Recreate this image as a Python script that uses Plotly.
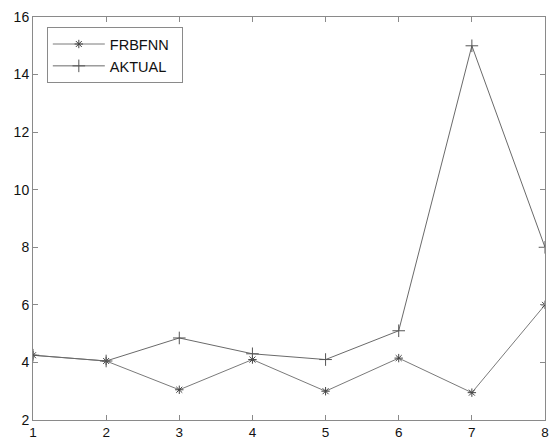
import plotly.graph_objects as go

x_vals = [1, 2, 3, 4, 5, 6, 7, 8]
frbfnn = [4.25, 4.05, 3.05, 4.1, 3.0, 4.15, 2.95, 6.0]
aktual = [4.25, 4.05, 4.85, 4.3, 4.1, 5.1, 15.0, 8.0]
series_names = ["FRBFNN", "AKTUAL"]

fig = go.Figure()
fig.add_trace(go.Scatter(
    x=x_vals, y=frbfnn, name=series_names[0] + "\u00a0\u00a0", mode="lines+markers",
    line=dict(color="#7a7a7a", width=1),
    marker=dict(symbol="asterisk-open", size=7, color="#444444", line=dict(width=1, color="#444444")),
))
fig.add_trace(go.Scatter(
    x=x_vals, y=aktual, name=series_names[1], mode="lines+markers",
    line=dict(color="#6a6a6a", width=1),
    marker=dict(symbol="cross-thin-open", size=9, color="#555555", line=dict(width=1, color="#555555")),
))

axis_common = dict(
    showline=True, linecolor="#8a8a8a", linewidth=1, mirror="ticks",
    ticks="inside", ticklen=5, tickcolor="#8a8a8a", showgrid=False, zeroline=False,
    automargin=False,
)
fig.update_xaxes(range=[1, 8], tickvals=x_vals,
                 tickfont=dict(family="Liberation Sans, Arial", size=13.5, color="#111111"),
                 **axis_common)
fig.update_yaxes(range=[2, 16], tickvals=[2, 4, 6, 8, 10, 12, 14, 16],
                 tickfont=dict(family="Liberation Sans, Arial", size=14, color="#111111"),
                 **axis_common)

fig.update_layout(
    width=552, height=439,
    margin=dict(l=33, r=7, t=17, b=19),
    paper_bgcolor="white", plot_bgcolor="white",
    showlegend=True,
    legend=dict(
        x=0.027, y=0.975, xanchor="left", yanchor="top",
        bgcolor="white", bordercolor="#8a8a8a", borderwidth=1,
        font=dict(family="Liberation Sans, Arial", size=14.5, color="#111111"),
        tracegroupgap=0, itemwidth=52,
    ),
)

fig.write_html(
    "out.html",
    config={"displayModeBar": False},
    post_script="document.body.style.margin='0';document.body.style.overflow='hidden';",
)
